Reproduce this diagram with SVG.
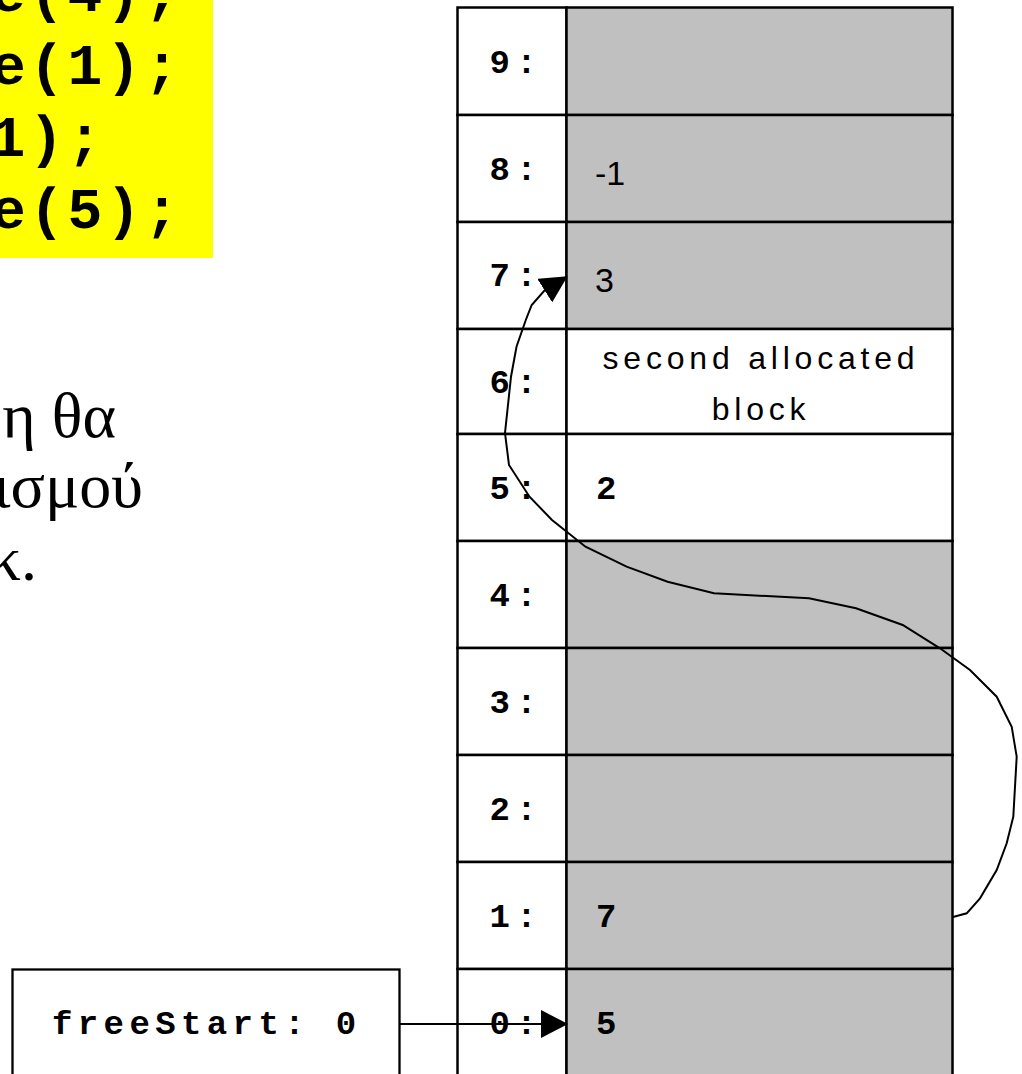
<svg xmlns="http://www.w3.org/2000/svg" width="1022" height="1074" viewBox="0 0 1022 1074">
<defs>
<marker id="arrow" markerUnits="userSpaceOnUse" viewBox="0 0 27 28" markerWidth="27" markerHeight="28" refX="26" refY="14" orient="auto">
<path d="M0,0 L27,14 L0,28 z" fill="#000"/>
</marker>
<style>
.cell{stroke:#000;stroke-width:2.5}
.lab{fill:#fff}
.used{fill:#c0c0c0}
.free{fill:#fff}
.mono{font-family:"Liberation Mono","DejaVu Sans Mono",monospace;font-weight:bold;font-size:34px;letter-spacing:6.3px;fill:#000}
.val{font-family:"Liberation Sans",Arial,sans-serif;font-size:34px;fill:#000}
.note{font-family:"Liberation Sans",Arial,sans-serif;font-size:32px;letter-spacing:4.8px;fill:#000}
.code{font-family:"Liberation Mono","DejaVu Sans Mono",monospace;font-weight:bold;font-size:58px;letter-spacing:3.5px;fill:#000}
.greek{font-family:"Liberation Serif","Times New Roman",serif;font-size:64px;fill:#000}
.conn{fill:none;stroke:#000;stroke-width:2}
</style>
</defs>
<rect width="1022" height="1074" fill="#fff"/>

<g id="code">
<rect x="0" y="0" width="213" height="258" fill="#ffff00"/>
<text class="code" x="-9" y="11">e(4);</text>
<text class="code" x="-9" y="83.5">e(1);</text>
<text class="code" x="-9.5" y="155.5">1);</text>
<text class="code" x="-9" y="228">e(5);</text>
</g>

<g id="greek-text">
<text class="greek" x="116" y="437" text-anchor="end">η θα</text>
<text class="greek" x="143" y="507" text-anchor="end">ισμού</text>
<text class="greek" x="37" y="580" text-anchor="end">κ.</text>
</g>

<g id="memory">
<g id="cell-9">
<rect class="cell lab" x="457.5" y="7.5" width="109" height="107.5"/>
<rect class="cell used" x="566.5" y="7.5" width="386" height="107.5"/>
<text class="mono" x="489.5" y="72.5">9:</text>
</g>
<g id="cell-8">
<rect class="cell lab" x="457.5" y="115" width="109" height="107"/>
<rect class="cell used" x="566.5" y="115" width="386" height="107"/>
<text class="mono" x="489.5" y="179.5">8:</text>
<text class="val" x="595" y="185">-1</text>
</g>
<g id="cell-7">
<rect class="cell lab" x="457.5" y="222" width="109" height="107"/>
<rect class="cell used" x="566.5" y="222" width="386" height="107"/>
<text class="mono" x="489.5" y="285.5">7:</text>
<text class="val" x="595" y="292">3</text>
</g>
<g id="cell-6">
<rect class="cell lab" x="457.5" y="329" width="109" height="105"/>
<rect class="cell free" x="566.5" y="329" width="386" height="105"/>
<text class="mono" x="489.5" y="393">6:</text>
<text class="note" x="761" y="368.5" text-anchor="middle">second allocated</text>
<text class="note" x="761" y="420" text-anchor="middle">block</text>
</g>
<g id="cell-5">
<rect class="cell lab" x="457.5" y="434" width="109" height="107"/>
<rect class="cell free" x="566.5" y="434" width="386" height="107"/>
<text class="mono" x="489.5" y="498.5">5:</text>
<text class="mono" x="596" y="498.5">2</text>
</g>
<g id="cell-4">
<rect class="cell lab" x="457.5" y="541" width="109" height="107"/>
<rect class="cell used" x="566.5" y="541" width="386" height="107"/>
<text class="mono" x="489.5" y="605.5">4:</text>
</g>
<g id="cell-3">
<rect class="cell lab" x="457.5" y="648" width="109" height="107"/>
<rect class="cell used" x="566.5" y="648" width="386" height="107"/>
<text class="mono" x="489.5" y="712.5">3:</text>
</g>
<g id="cell-2">
<rect class="cell lab" x="457.5" y="755" width="109" height="107"/>
<rect class="cell used" x="566.5" y="755" width="386" height="107"/>
<text class="mono" x="489.5" y="819.5">2:</text>
</g>
<g id="cell-1">
<rect class="cell lab" x="457.5" y="862" width="109" height="107"/>
<rect class="cell used" x="566.5" y="862" width="386" height="107"/>
<text class="mono" x="489.5" y="926.5">1:</text>
<text class="mono" x="596" y="927">7</text>
</g>
<g id="cell-0">
<rect class="cell lab" x="457.5" y="969" width="109" height="130"/>
<rect class="cell used" x="566.5" y="969" width="386" height="130"/>
<text class="mono" x="489.5" y="1034">0:</text>
<text class="mono" x="596" y="1034">5</text>
</g>
</g>

<g id="freeStart">
<rect x="12.5" y="969.5" width="387" height="130" fill="#fff" stroke="#000" stroke-width="2.3"/>
<text class="mono" x="52" y="1033.5" style="letter-spacing:5.4px">freeStart: 0</text>
</g>

<g id="connectors">
<polyline class="conn" marker-end="url(#arrow)" points="953,917 966.7,913.3 980,898.3 996.7,870 1006.7,843.3 1013.3,816.7 1016.7,756.7 1011.7,726.7 996.7,696.7 970,670 940,648.3 902.7,625 856,608.3 809,598.3 714,593.3 667.6,581.7 626.6,566.7 585.5,546.7 552,520 529.5,496.7 509,465 505,433 511,376.7 516.5,346.7 525.8,320 531.7,305 544,291 566.7,276.7"/>
<line class="conn" marker-end="url(#arrow)" x1="400" y1="1024" x2="567" y2="1024"/>
</g>
</svg>
